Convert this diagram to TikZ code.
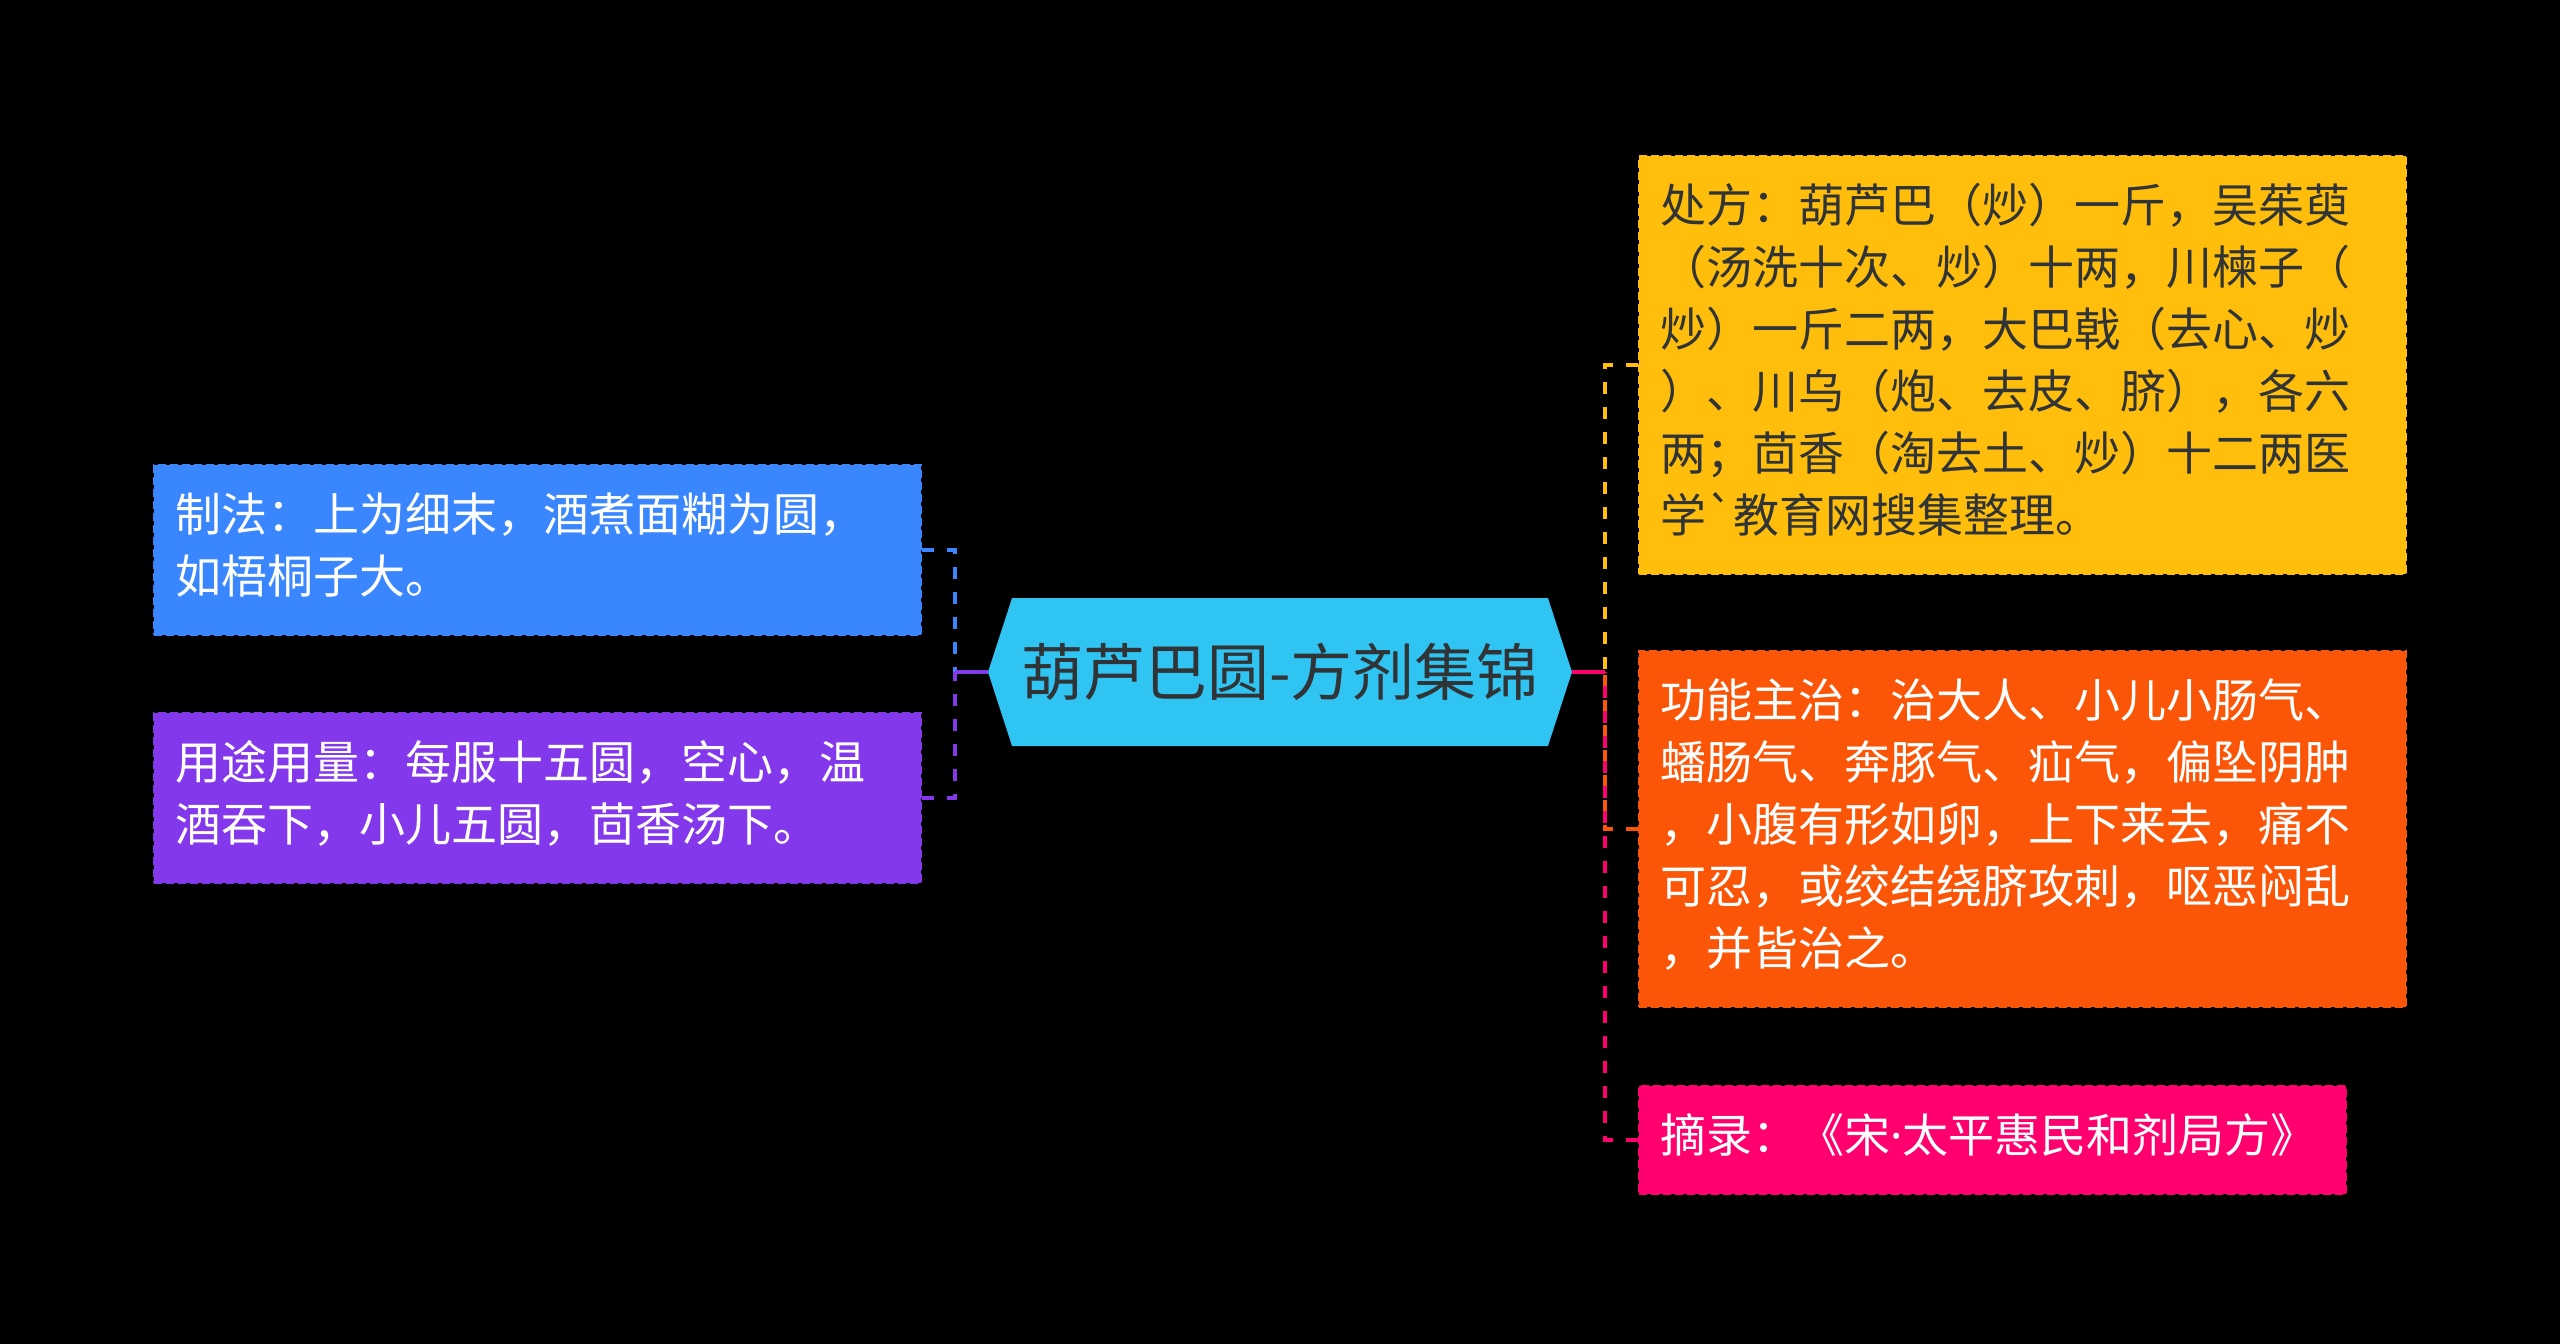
\documentclass[tikz,border=0pt]{standalone}
\usepackage{fontspec}
\setmainfont{Noto Sans CJK SC}
\newfontfamily\rawcjk{Noto Sans CJK SC}
\newfontfamily\latinfont{Noto Sans}
\usetikzlibrary{positioning, shapes.symbols}

\definecolor{cblue}{HTML}{3A86FF}
\definecolor{cpurple}{HTML}{8338EC}
\definecolor{cyellow}{HTML}{FFBE0B}
\definecolor{corange}{HTML}{FB5607}
\definecolor{cpink}{HTML}{FF006E}
\definecolor{ccenter}{HTML}{30C4F3}
\definecolor{cdark}{HTML}{303436}

\begin{document}
\begin{tikzpicture}[
    x=0.5pt, y=-0.5pt,
    leaf/.style = {rectangle, draw=#1, fill=#1, dash pattern=on 4pt off 2pt, line width=1pt, align=left, inner xsep=10.5pt, inner ysep=11.5pt, text=white, font=\fontsize{23}{31}\selectfont, execute at begin node=\strut, execute at end node=\strut},
    wide/.style = {text width=362.5pt},
    root/.style = {signal, signal to=west and east, signal pointer angle=144, fill=ccenter, text=cdark, font=\fontsize{31}{37}\selectfont, minimum width=292pt, minimum height=74pt, inner sep=0pt},
    link/.style = {line width=2pt},
    branch/.style = {link, dash pattern=on 6pt off 6.5pt}]

    \fill[black] (0,0) rectangle (2560,1344);

    \node[root] (root) at (1280,672) {葫芦巴圆-方剂集锦};

    \node[leaf=cblue, wide, anchor=north east] (zhifa) at (922,464) {制法：上为细末，酒煮面糊为圆，\\如梧桐子大。};
    \node[leaf=cpurple, wide, below=38pt of zhifa] (yongtu) {用途用量：每服十五圆，空心，温\\酒吞下，小儿五圆，茴香汤下。};

    \node[leaf=cyellow, wide, text=cdark, anchor=north west] (chufang) at (1638,155) {处方：葫芦巴（炒）一斤，吴茱萸\\（汤洗十次、炒）十两，川楝子（\\炒）一斤二两，大巴戟（去心、炒\\）、川乌（炮、去皮、脐），各六\\两；茴香（淘去土、炒）十二两医\\学{\rawcjk`}教育网搜集整理。};
    \node[leaf=corange, wide, below=37.5pt of chufang] (gongneng) {功能主治：治大人、小儿小肠气、\\蟠肠气、奔豚气、疝气，偏坠阴肿\\，小腹有形如卵，上下来去，痛不\\可忍，或绞结绕脐攻刺，呕恶闷乱\\，并皆治之。};
    \node[leaf=cpink, text width=332.5pt, below right=38.5pt and 0pt of gongneng.south west] (zhailu) {摘录：《宋{\latinfont ·}太平惠民和剂局方》};

    \coordinate (lj) at (955,672);
    \coordinate (rj) at (1605,672);

    \draw[branch, cblue] (zhifa.east) -| (lj);
    \draw[branch, cpurple] (yongtu.east) -| (lj);
    \draw[link, cpurple] (root.west) -- (lj);

    \draw[branch, cyellow] (chufang.west) -| (rj);
    \draw[branch, corange] (gongneng.west) -| (rj);
    \draw[branch, cpink] (zhailu.west) -| (rj);
    \draw[link, cpink] (root.east) -- (rj);

\end{tikzpicture}
\end{document}
